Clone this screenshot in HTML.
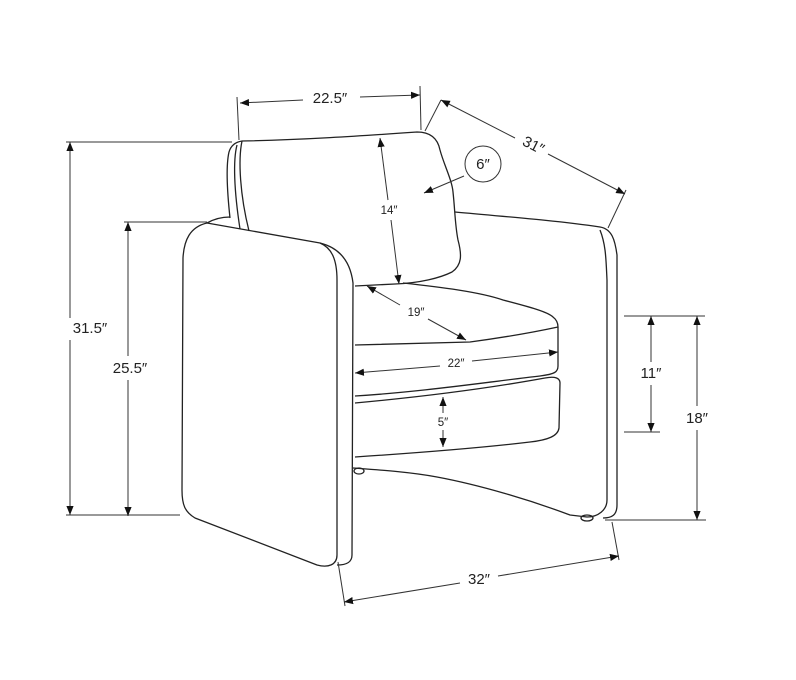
<!DOCTYPE html>
<html><head><style>
html,body{margin:0;padding:0;background:#fff;}
svg{display:block}
text{font-family:"Liberation Sans",sans-serif;fill:#222;}
</style></head><body>
<svg width="796" height="680" viewBox="0 0 796 680" xmlns="http://www.w3.org/2000/svg">
<defs>
<marker id="a" viewBox="0 0 10 10" refX="10" refY="5" markerWidth="9" markerHeight="9" orient="auto-start-reverse" markerUnits="userSpaceOnUse"><path d="M0,1 L10,5 L0,9 z" fill="#111"/></marker>
</defs>
<g fill="none" stroke="#222" stroke-width="1.3" stroke-linejoin="round">
<path d="M230,218 C227,190 226,165 229,152 C231,145 236,142 242,141"/>
<path d="M237,145 C233,160 234,190 240,229"/>
<path d="M242,141 C238,160 240,195 249,231"/>
<path d="M242,141 C300,140 360,136 417,132 C432,132 438,140 440,150 C444,165 452,180 453,192 C455,210 455,225 458,240 C462,255 462,265 452,272 C440,278 420,283 395,284 L355,286"/>
<path d="M207,223 C214,219 222,217 230,217"/>
<path d="M207,223 C190,227 184,240 183,258 L182,490 C182,505 185,512 195,518 L317,565 C328,568 337,565 337,555 L337,280 C337,260 332,248 320,243 Z"/>
<path d="M320,243 C336,247 350,258 353,283 L352,555 C352,562 347,565 337,565"/>
<path d="M455,212 C510,217 560,221 600,227 C612,229 615,240 617,255 L617,505 C617,515 612,518 603,518"/>
<path d="M600,230 C606,245 606,260 607,280 L607,500 C607,510 598,517 587,517 L570,515 C530,500 480,485 437,477 C410,472 380,470 353,468"/>
<ellipse cx="359" cy="471" rx="5" ry="3"/>
<ellipse cx="587" cy="518" rx="6" ry="3"/>
<path d="M403,283 C440,287 480,292 503,300 C530,307 548,312 553,317 C557,320 558,324 558,327 C530,333 500,338 470,342 L355,345"/>
<path d="M558,327 L558,366 C558,372 555,374 540,376 C480,383 420,392 355,396"/>
<path d="M355,403 C420,397 490,388 545,378 C555,376 560,378 560,383 L559,428 C558,436 548,440 530,442 C480,448 430,452 355,457"/>
</g>
<g fill="none" stroke="#333" stroke-width="1">
<line x1="237" y1="97" x2="239" y2="140"/><line x1="420" y1="86" x2="421" y2="130"/>
<line x1="240" y1="103" x2="303" y2="100" marker-start="url(#a)"/>
<line x1="360" y1="97" x2="420" y2="95" marker-end="url(#a)"/>
<line x1="425" y1="131" x2="441" y2="100"/><line x1="608" y1="228" x2="626" y2="190"/>
<line x1="441" y1="100" x2="515" y2="138" marker-start="url(#a)"/>
<line x1="548" y1="154" x2="625" y2="194" marker-end="url(#a)"/>
<circle cx="483" cy="164" r="18"/>
<line x1="464" y1="176" x2="424" y2="193" marker-end="url(#a)"/>
<line x1="380" y1="138" x2="388" y2="200" marker-start="url(#a)"/>
<line x1="391" y1="220" x2="399" y2="284" marker-end="url(#a)"/>
<line x1="367" y1="286" x2="400" y2="305" marker-start="url(#a)"/>
<line x1="428" y1="319" x2="466" y2="340" marker-end="url(#a)"/>
<line x1="355" y1="373" x2="440" y2="366" marker-start="url(#a)"/>
<line x1="472" y1="361" x2="558" y2="352" marker-end="url(#a)"/>
<line x1="443" y1="397" x2="443" y2="413" marker-start="url(#a)"/>
<line x1="443" y1="430" x2="443" y2="447" marker-end="url(#a)"/>
<line x1="66" y1="142" x2="232" y2="142"/><line x1="66" y1="515" x2="180" y2="515"/>
<line x1="70" y1="142" x2="70" y2="318" marker-start="url(#a)"/>
<line x1="70" y1="340" x2="70" y2="515" marker-end="url(#a)"/>
<line x1="124" y1="222" x2="207" y2="222"/>
<line x1="128" y1="222" x2="128" y2="356" marker-start="url(#a)"/>
<line x1="128" y1="380" x2="128" y2="516" marker-end="url(#a)"/>
<line x1="624" y1="316" x2="705" y2="316"/><line x1="624" y1="432" x2="660" y2="432"/>
<line x1="651" y1="316" x2="651" y2="362" marker-start="url(#a)"/>
<line x1="651" y1="385" x2="651" y2="432" marker-end="url(#a)"/>
<line x1="605" y1="520" x2="706" y2="520"/>
<line x1="697" y1="316" x2="697" y2="406" marker-start="url(#a)"/>
<line x1="697" y1="430" x2="697" y2="520" marker-end="url(#a)"/>
<line x1="338" y1="562" x2="345" y2="606"/><line x1="612" y1="522" x2="619" y2="560"/>
<line x1="344" y1="602" x2="460" y2="583" marker-start="url(#a)"/>
<line x1="498" y1="576" x2="619" y2="556" marker-end="url(#a)"/>
</g>
<g font-size="15">
<text x="330" y="103" text-anchor="middle">22.5″</text>
<text x="533" y="150" text-anchor="middle" transform="rotate(27 533 146)">31″</text>
<text x="483" y="169" text-anchor="middle">6″</text>
<text x="90" y="333" text-anchor="middle">31.5″</text>
<text x="130" y="373" text-anchor="middle">25.5″</text>
<text x="651" y="378" text-anchor="middle">11″</text>
<text x="697" y="423" text-anchor="middle">18″</text>
<text x="479" y="584" text-anchor="middle">32″</text>
</g>
<g font-size="11.5">
<text x="389" y="214" text-anchor="middle">14″</text>
<text x="416" y="316" text-anchor="middle">19″</text>
<text x="456" y="367" text-anchor="middle">22″</text>
<text x="443" y="426" text-anchor="middle">5″</text>
</g>
</svg>
</body></html>
